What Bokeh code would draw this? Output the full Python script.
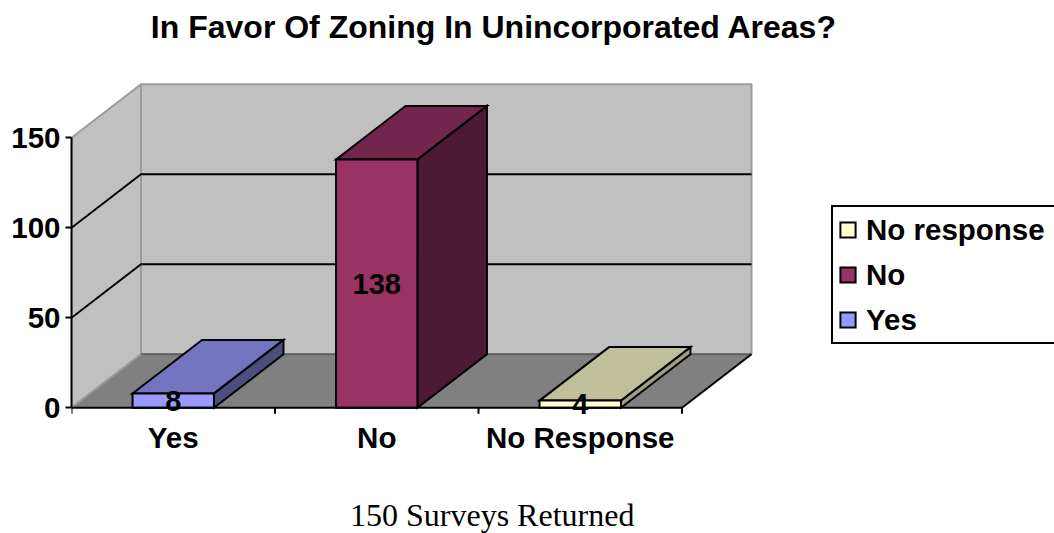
from bokeh.plotting import figure
from bokeh.models import (ColumnDataSource, LinearAxis, FixedTicker, Range1d, Label,
                          LabelSet, Legend, LegendItem)
from bokeh.core.properties import value
from bokeh.embed import file_html
from bokeh.resources import INLINE

# ---------------- data ----------------
title_text = "In Favor Of Zoning In Unincorporated Areas?"
caption_text = "150 Surveys Returned"
categories = ["Yes", "No", "No Response"]
legend_labels = ["Yes", "No", "No response"]
counts = [8, 138, 4]
value_ticks = [0, 50, 100, 150]

# ---------------- style ----------------
front_colors = ["#9999ff", "#993366", "#ffffcc"]
top_colors = ["#7373bf", "#73264d", "#bfbf99"]
side_colors = ["#4d4d80", "#4d1a33", "#9e9e80"]
WALL = "#c0c0c0"
FLOOR = "#808080"
EDGE = "#9a9a9a"
FONT = "Liberation Sans"

W, H = 1054, 533
LEFT = 71
ORIGIN_Y = 407.3                # pixel row of the value 0 line
PX_PER_CAT = 203.5
PX_PER_VAL = 1.8
DX = 69.5 / PX_PER_CAT          # depth offset in category units
DY = 53.5 / PX_PER_VAL          # depth offset in value units
HALF_W = 0.2
TICK_LEN = 6 / PX_PER_VAL

n = len(categories)
vmax = value_ticks[-1]


def py(px):
    """pixel row -> value units (layout helper for annotations)"""
    return (ORIGIN_Y - px) / PX_PER_VAL


def px_x(px):
    """pixel column -> category units (layout helper for annotations)"""
    return (px - LEFT) / PX_PER_CAT


p = figure(width=W, height=H, output_backend="svg", toolbar_location=None,
           x_range=Range1d(0, (W - LEFT) / PX_PER_CAT),
           y_range=Range1d(py(H), py(0)),
           x_axis_type=None, y_axis_type=None,
           min_border_left=LEFT, min_border_bottom=0,
           min_border_top=0, min_border_right=0)
p.outline_line_color = None
p.background_fill_color = "white"
p.border_fill_color = "white"

# walls and floor
p.patch([DX, n + DX, n + DX, DX], [DY, DY, vmax + DY, vmax + DY],
        fill_color=WALL, line_color=EDGE, line_width=2)
p.patch([0, DX, DX, 0], [0, DY, vmax + DY, vmax],
        fill_color=WALL, line_color=EDGE, line_width=2)
p.patch([0, n, n + DX, DX], [0, 0, DY, DY], fill_color=FLOOR, line_color=None)
p.line([DX, n + DX], [DY, DY], line_color="#606060", line_width=2)
p.line([0, DX], [0, DY], line_color=EDGE, line_width=2)
p.line([n, n + DX], [0, DY], line_color="black", line_width=2)

# gridlines (side wall + back wall)
grid_vals = [v for v in value_ticks if 0 < v < vmax]
p.multi_line([[0, DX, n + DX] for v in grid_vals],
             [[v, v + DY, v + DY] for v in grid_vals],
             line_color="black", line_width=2)

# bars
x0 = [i + 0.5 - HALF_W for i in range(n)]
x1 = [i + 0.5 + HALF_W for i in range(n)]
src = ColumnDataSource(dict(
    left=x0, right=x1, top=counts, bottom=[0] * n,
    front=front_colors,
    top_xs=[[a, b, b + DX, a + DX] for a, b in zip(x0, x1)],
    top_ys=[[v, v, v + DY, v + DY] for v in counts],
    side_xs=[[b, b + DX, b + DX, b] for b in x1],
    side_ys=[[0, DY, v + DY, v] for v in counts],
    topc=top_colors, sidec=side_colors,
    cx=[i + 0.5 for i in range(n)], cy=[v / 2 for v in counts],
    lab=[str(v) for v in counts],
))
p.patches("side_xs", "side_ys", source=src, fill_color="sidec",
          line_color="black", line_width=2, line_join="miter")
p.patches("top_xs", "top_ys", source=src, fill_color="topc",
          line_color="black", line_width=2, line_join="miter")
front = p.quad(left="left", right="right", top="top", bottom="bottom", source=src,
               fill_color="front", line_color="black", line_width=2, line_join="miter")

# value axis (left)
yaxis = LinearAxis(ticker=FixedTicker(ticks=value_ticks), bounds=(0, vmax))
yaxis.axis_line_width = 2
yaxis.major_tick_line_width = 2
yaxis.major_tick_out = 6
yaxis.major_tick_in = 0
yaxis.minor_tick_line_color = None
yaxis.major_label_standoff = 5
yaxis.major_label_text_font = FONT
yaxis.major_label_text_font_style = "bold"
yaxis.major_label_text_font_size = "29.5px"
yaxis.major_label_text_color = "black"
p.add_layout(yaxis, "left")

# category axis (front edge of the floor)
p.segment(x0=[0], y0=[0], x1=[n], y1=[0], line_color="black", line_width=2)
p.segment(x0=list(range(n + 1)), y0=[0] * (n + 1), x1=list(range(n + 1)),
          y1=[-TICK_LEN] * (n + 1), line_color="black", line_width=2)
p.text(x=[i + 0.5 for i in range(n)], y=[py(437)] * n, text=categories,
       text_align="center", text_baseline="middle", text_font=value(FONT),
       text_font_style="bold", text_font_size="29.5px", text_color="black")

# value labels
p.add_layout(LabelSet(x="cx", y="cy", text="lab", source=src, text_align="center",
                      text_baseline="middle", text_font=value(FONT),
                      text_font_style="bold", text_font_size="29px", text_color="black"))

# title and caption
p.add_layout(Label(x=px_x(493.5), y=py(26), text=title_text, text_align="center",
                   text_baseline="middle", text_font=FONT, text_font_style="bold",
                   text_font_size="32px", text_color="black"))
p.add_layout(Label(x=px_x(491.7), y=py(514), text=caption_text, text_align="center",
                   text_baseline="middle", text_font="Liberation Serif",
                   text_font_size="32px", text_color="black"))

# legend
legend = Legend(items=[LegendItem(label=legend_labels[i], renderers=[front], index=i)
                       for i in reversed(range(n))],
                location=(760, 189), orientation="vertical")
legend.border_line_color = "black"
legend.border_line_width = 2
legend.border_line_alpha = 1
legend.background_fill_color = "white"
legend.background_fill_alpha = 1
legend.padding = 5
legend.spacing = 10
legend.margin = 0
legend.label_height = 35
legend.label_width = 200
legend.glyph_height = 19
legend.glyph_width = 19
legend.label_standoff = 9
legend.label_text_font = FONT
legend.label_text_font_style = "bold"
legend.label_text_font_size = "29.5px"
legend.label_text_color = "black"
p.add_layout(legend)

open("out.html", "w").write(file_html(p, INLINE))
